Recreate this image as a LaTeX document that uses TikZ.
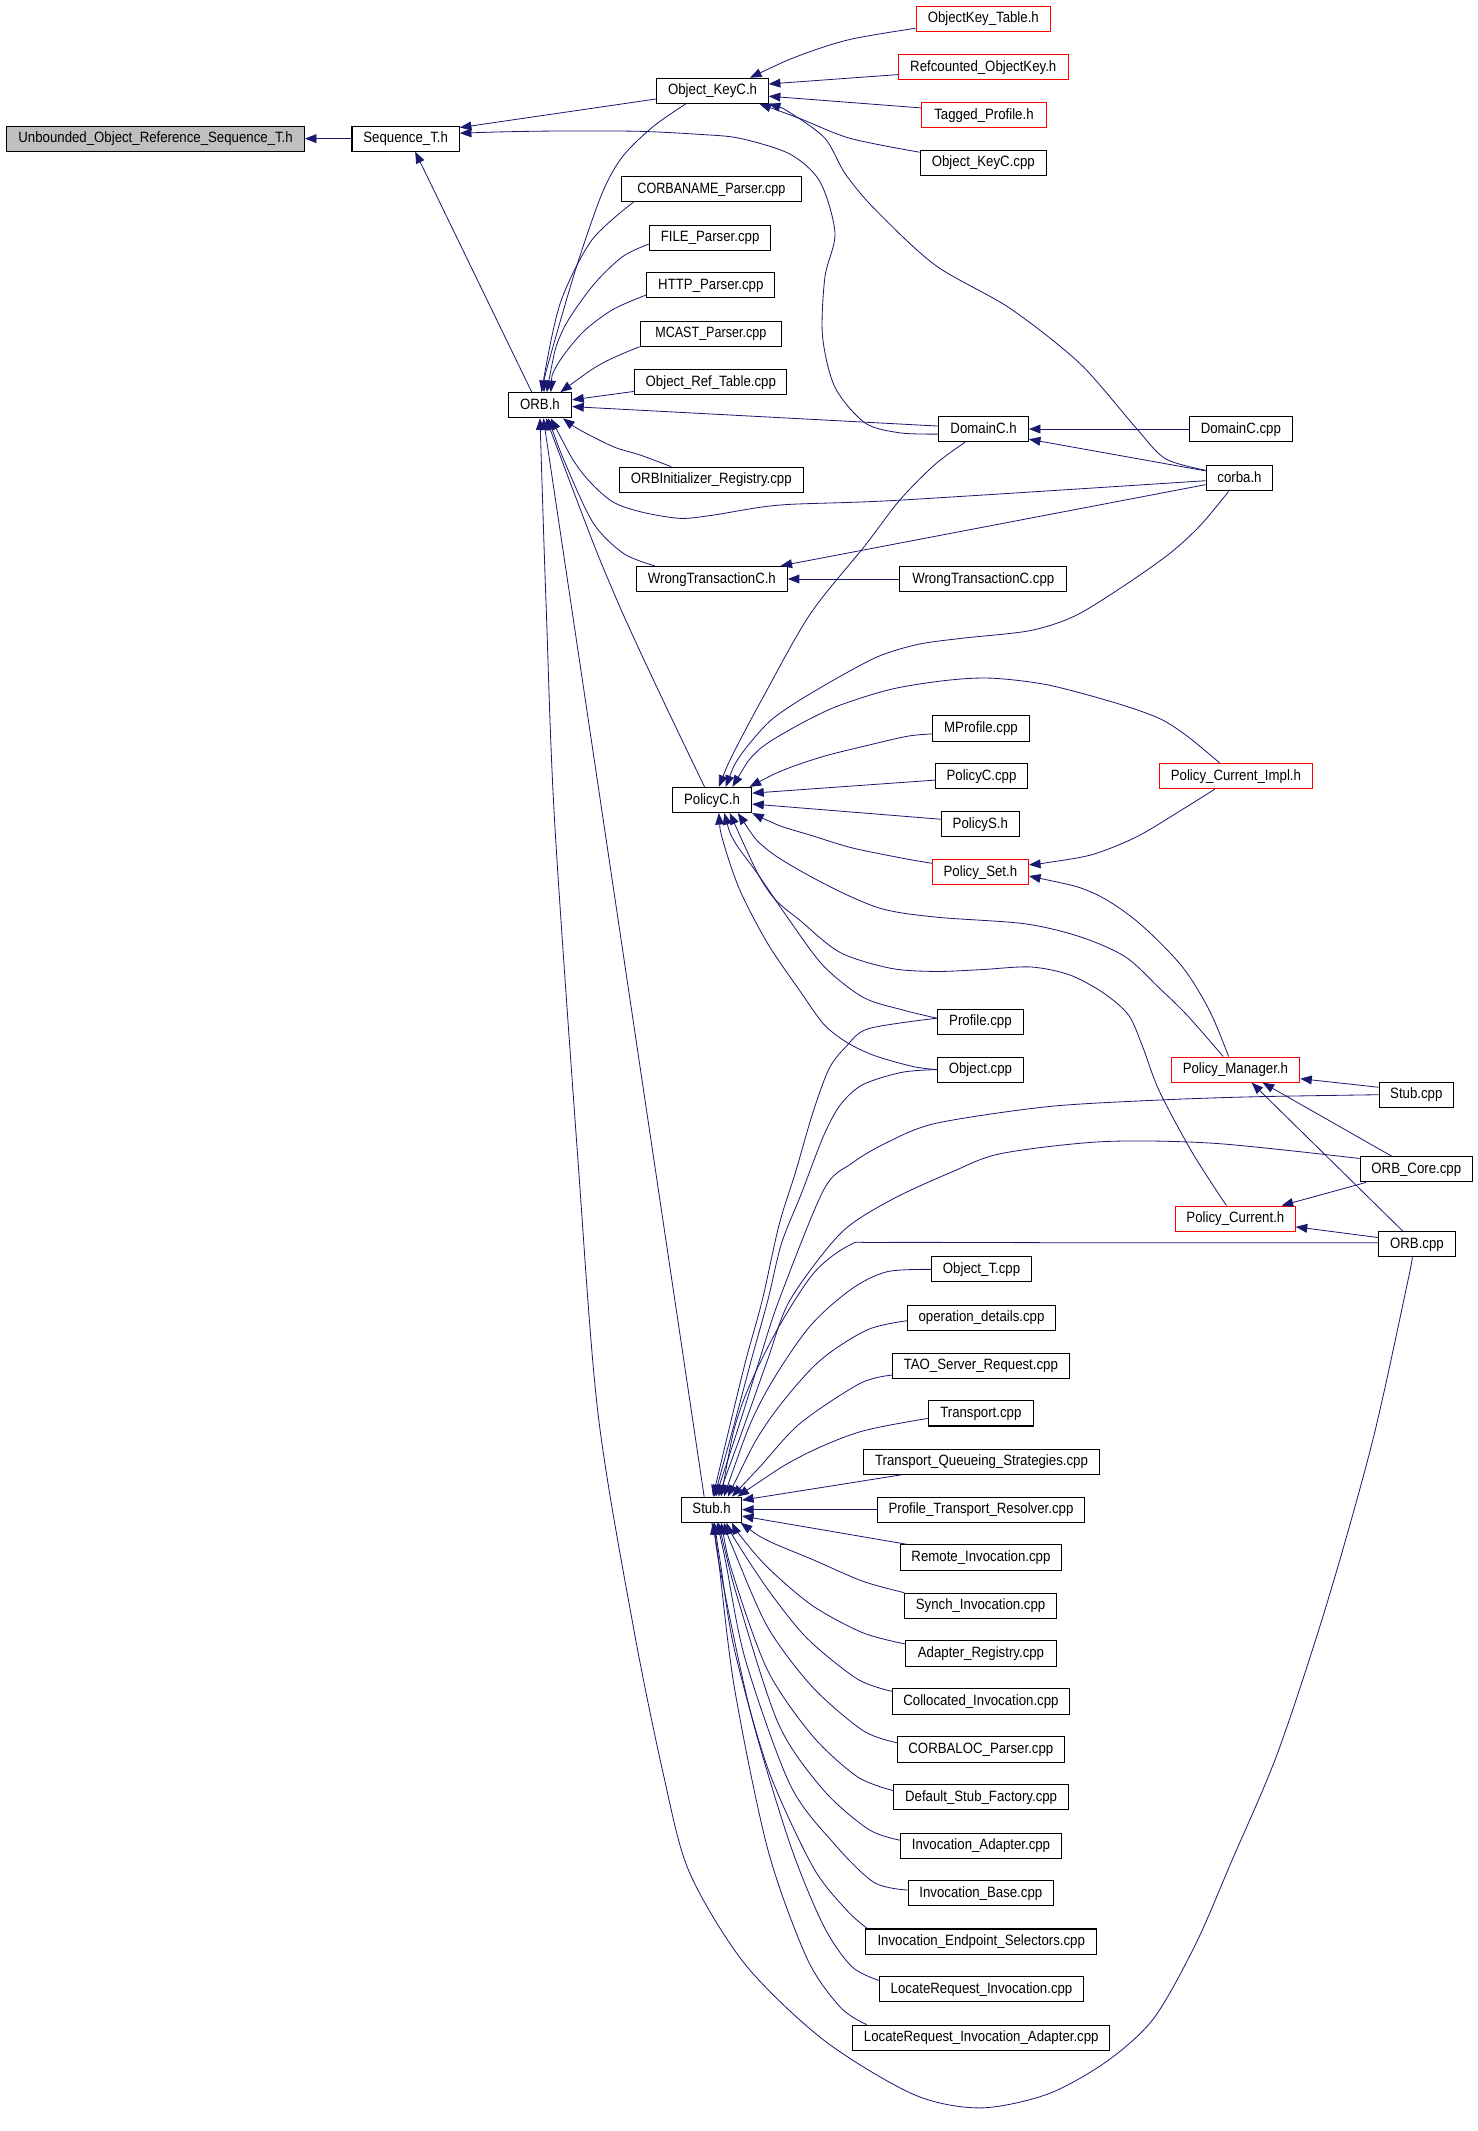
\documentclass[tikz,border=0pt]{standalone}
\usepackage{fontspec}
\setmainfont[FakeStretch=0.885]{Liberation Sans}
\newfontfamily\narrowsans[FakeStretch=0.84]{Liberation Sans}
\usetikzlibrary{arrows.meta}
\definecolor{navyline}{HTML}{191970}
\definecolor{rootgray}{HTML}{BFBFBF}
\definecolor{redline}{HTML}{FF0000}
\newcommand\dgfont{\fontsize{11}{13}\selectfont}
\newcommand\dgnarrow{\narrowsans\fontsize{11}{13}\selectfont}
\tikzset{
  filebox/.style={draw=black, line width=0.75pt, fill=white, inner xsep=4pt, inner ysep=0pt,
    minimum height=18.5pt, text height=8.6pt, text depth=2.5pt, font=\dgfont, anchor=center},
  redfile/.style={filebox, draw=redline},
  rootfile/.style={filebox, fill=rootgray},
  narrowtext/.style={font=\dgnarrow},
  dep/.style={draw=navyline, line width=0.6pt, {Triangle[length=8.5pt,width=6.5pt]}-},
}
\begin{document}
\begin{tikzpicture}[x=1pt,y=-1pt]
\useasboundingbox (0,0) rectangle (1087,1568);
% ---------------- nodes ----------------
\node[rootfile, minimum width=219pt] (U) at (114.5,102) {Unbounded\_Object\_Reference\_Sequence\_T.h};
\node[filebox, minimum width=79pt] (Seq) at (298.5,102) {Sequence\_T.h};
\node[filebox, minimum width=82pt] (OKC) at (524.3,66.8) {Object\_KeyC.h};
\node[redfile, minimum width=99pt] (OKT) at (723.5,13.8) {ObjectKey\_Table.h};
\node[redfile, minimum width=125pt] (RCOK) at (723.5,49.2) {Refcounted\_ObjectKey.h};
\node[redfile, minimum width=92pt] (TP) at (724,84.7) {Tagged\_Profile.h};
\node[filebox, minimum width=93pt] (OKCcpp) at (723.5,119.8) {Object\_KeyC.cpp};
\node[filebox, narrowtext, minimum width=133pt] (CN) at (523.5,139.2) {CORBANAME\_Parser.cpp};
\node[filebox, minimum width=89pt] (FP) at (522.5,175) {FILE\_Parser.cpp};
\node[filebox, minimum width=94pt] (HP) at (523,210) {HTTP\_Parser.cpp};
\node[filebox, narrowtext, minimum width=104pt] (MP) at (523,245.5) {MCAST\_Parser.cpp};
\node[filebox, minimum width=112pt] (ORT) at (523,281) {Object\_Ref\_Table.cpp};
\node[filebox, minimum width=46.7pt] (ORB) at (397.3,298.2) {ORB.h};
\node[filebox, minimum width=66pt] (DC) at (723.7,315.7) {DomainC.h};
\node[filebox, minimum width=76pt] (DCcpp) at (913,315.7) {DomainC.cpp};
\node[filebox, minimum width=135.4pt] (ORBI) at (523.4,353) {ORBInitializer\_Registry.cpp};
\node[filebox, minimum width=49pt] (corba) at (912,352) {corba.h};
\node[filebox, minimum width=111pt] (WTC) at (523.8,426) {WrongTransactionC.h};
\node[filebox, minimum width=123pt] (WTCcpp) at (723.5,426) {WrongTransactionC.cpp};
\node[filebox, minimum width=71.5pt] (MPr) at (721.8,536) {MProfile.cpp};
\node[filebox, minimum width=58.4pt] (PC) at (523.9,588.6) {PolicyC.h};
\node[filebox, minimum width=67.6pt] (PCcpp) at (722.2,571) {PolicyC.cpp};
\node[redfile, minimum width=112.8pt] (PCI) at (909.4,571) {Policy\_Current\_Impl.h};
\node[filebox, minimum width=57.5pt] (PS) at (721.3,606.3) {PolicyS.h};
\node[redfile, minimum width=70.7pt] (PSet) at (721.4,641.6) {Policy\_Set.h};
\node[filebox, minimum width=63.3pt] (Prof) at (721.4,751.7) {Profile.cpp};
\node[filebox, minimum width=63.3pt] (Obj) at (721.4,787) {Object.cpp};
\node[redfile, minimum width=94.7pt] (PM) at (909,787) {Policy\_Manager.h};
\node[filebox, minimum width=54.8pt] (Stubcpp) at (1042.1,805.5) {Stub.cpp};
\node[filebox, minimum width=82.8pt] (ORBCore) at (1042.1,860.4) {ORB\_Core.cpp};
\node[redfile, minimum width=88pt] (PCur) at (909,896.7) {Policy\_Current.h};
\node[filebox, minimum width=56pt] (ORBcpp) at (1042.6,915.4) {ORB.cpp};
\node[filebox, minimum width=73.2pt] (ObjT) at (722.2,934) {Object\_T.cpp};
\node[filebox, minimum width=108.7pt] (OD) at (722.2,969.5) {operation\_details.cpp};
\node[filebox, minimum width=130pt] (TSR) at (721.7,1004.8) {TAO\_Server\_Request.cpp};
\node[filebox, minimum width=77.4pt] (Tr) at (721.7,1040) {Transport.cpp};
\node[filebox, minimum width=173.7pt] (TQS) at (722.2,1075.5) {Transport\_Queueing\_Strategies.cpp};
\node[filebox, minimum width=44pt] (Stub) at (523.6,1110.8) {Stub.h};
\node[filebox, minimum width=152.3pt] (PTR) at (721.8,1110.8) {Profile\_Transport\_Resolver.cpp};
\node[filebox, minimum width=118.5pt] (RI) at (721.8,1146) {Remote\_Invocation.cpp};
\node[filebox, minimum width=111.5pt] (SI) at (721.5,1181.5) {Synch\_Invocation.cpp};
\node[filebox, minimum width=111pt] (AR) at (721.8,1216.6) {Adapter\_Registry.cpp};
\node[filebox, minimum width=130pt] (CI) at (721.8,1252) {Collocated\_Invocation.cpp};
\node[filebox, minimum width=122.6pt] (CP) at (721.7,1287.3) {CORBALOC\_Parser.cpp};
\node[filebox, minimum width=128.8pt] (DSF) at (721.9,1322.5) {Default\_Stub\_Factory.cpp};
\node[filebox, minimum width=118.5pt] (IA) at (721.8,1358) {Invocation\_Adapter.cpp};
\node[filebox, minimum width=107pt] (IB) at (721.7,1393) {Invocation\_Base.cpp};
\node[filebox, minimum width=170pt] (IES) at (722,1428.6) {Invocation\_Endpoint\_Selectors.cpp};
\node[filebox, minimum width=149.7pt] (LRI) at (722.2,1463.8) {LocateRequest\_Invocation.cpp};
\node[filebox, minimum width=189pt] (LRIA) at (722,1499.3) {LocateRequest\_Invocation\_Adapter.cpp};
% ---------------- edges ----------------
\draw[dep] (U.east) -- (Seq.west);
\draw[dep] ([yshift=-1.5pt]Seq.north east) -- ([yshift=-6pt]OKC.west);
\draw[dep] plot[smooth] coordinates {([yshift=4pt]Seq.east) (375.4,96.9) (413,96.4) (469.3,96.6) (515,98.9) (544.5,101.8) (581.3,113.4) (603.4,133.8) (614.4,171.6) (607,203.6) (605.2,247.2) (614.4,285) (636.5,311.2) (662.3,318.5) ([yshift=-3.7pt]DC.west)};
\draw[dep] ([xshift=7pt]Seq.south) -- ([xshift=-6pt]ORB.north);
% Object_KeyC.h
\draw[dep] plot[smooth] coordinates {([xshift=27.5pt]OKC.north) (588.7,40.7) (625.5,29) ([yshift=-7pt]OKT.west)};
\draw[dep] ([yshift=5pt]OKC.east) -- ([yshift=-5.7pt]RCOK.west);
\draw[dep] ([yshift=-4pt]OKC.east) -- ([yshift=5.3pt]TP.west);
\draw[dep] plot[smooth] coordinates {([xshift=34.5pt]OKC.south) (588.7,87.3) (625.5,101.8) ([yshift=7.8pt]OKCcpp.west)};
\draw[dep] plot[smooth] coordinates {(OKC.south east) (581.3,82.9) (607,101.8) (622,128) (643.9,154.1) (688,195) (743.2,226.9) (794.7,267.6) (835.2,314.1) (857.3,337.4) ([yshift=6pt]corba.west)};
% ORB.h
\draw[dep] plot[smooth] coordinates {([xshift=1pt]ORB.north) (405.5,260) (424.2,196.2) (443,142.3) (458,115.3) (480.5,93.2) ([xshift=-19.7pt]OKC.south)};
\draw[dep] plot[smooth] coordinates {([xshift=3pt]ORB.north) (401.7,269.8) (413,220.8) (435.5,176.6) ([xshift=-57.5pt]CN.south)};
\draw[dep] plot[smooth] coordinates {([xshift=5pt]ORB.north) (413,245.3) (435.5,211) (458,188.9) ([yshift=-4.5pt]FP.west)};
\draw[dep] plot[smooth] coordinates {([xshift=8pt]ORB.north) (409.2,269.8) (428,245.3) (450.5,228) ([yshift=-7pt]HP.west)};
\draw[dep] plot[smooth] coordinates {([xshift=15pt]ORB.north) (443,267.4) (MP.south west)};
\draw[dep] ([yshift=4pt]ORB.east) -- ([yshift=-7pt]ORT.west);
\draw[dep] ([yshift=-1pt]ORB.east) -- ([yshift=2.2pt]DC.west);
\draw[dep] plot[smooth] coordinates {([xshift=17pt]ORB.south) (426.8,316.4) (451.3,328.7) (471,334.8) ([xshift=-29.5pt]ORBI.north)};
\draw[dep] plot[smooth] coordinates {([xshift=8pt]ORB.south) (426.8,345.8) (448.9,368) (471,376.5) (500.4,381.4) (524.9,379) (574,371.6) (662.3,368) ([yshift=-1.7pt]corba.west)};
\draw[dep] plot[smooth] coordinates {([xshift=6pt]ORB.south) (417,343.4) (436.6,385) (458.7,407.2) ([xshift=-42pt]WTC.north)};
\draw[dep] plot[smooth] coordinates {([xshift=4.5pt]ORB.south) (455,444) ([xshift=-5.5pt]PC.north)};
\draw[dep] ([xshift=2.5pt]ORB.south) -- ([xshift=-5.5pt]Stub.north);
\draw[dep] plot[smooth] coordinates {(ORB.south) (402,450) (408,603) (425,850) (440,1040) (466,1197) (488,1305) (507,1377) (548,1445) (606,1501) (672,1541) (721,1551) (770.7,1540.9) (814,1517) (849,1485) (880,1430) (906,1370) (940,1290) (976,1181) (1010,1060) (1036,942) ([xshift=-3.5pt]ORBcpp.south)};
% DomainC.h, corba.h, WrongTransactionC.h
\draw[dep] (DC.east) -- (DCcpp.west);
\draw[dep] ([yshift=-7.5pt]DC.east) -- ([yshift=5.5pt]corba.west);
\draw[dep] (WTC.east) -- (WTCcpp.west);
\draw[dep] ([xshift=50.5pt]WTC.north) -- ([yshift=-4.6pt]corba.west);
% PolicyC.h
\draw[dep] plot[smooth] coordinates {([xshift=5pt]PC.north) (539.6,554.3) (561.7,512.6) (596,452) (636.5,401.4) (662,368) (688,341.7) ([xshift=-13.5pt]DC.south)};
\draw[dep] plot[smooth] coordinates {([xshift=10pt]PC.north) (544.4,556.5) (565,532) (585.5,517) (618.5,497.5) (647.2,482.6) (676,474) (709,469.5) (758,464) (791.3,453) (827.8,430.5) (861,407) (883,386.8) ([xshift=-8pt]corba.south)};
\draw[dep] plot[smooth] coordinates {([xshift=15pt]PC.north) (556.7,553.2) (581.4,536.8) (614.4,520.3) (655.5,507.2) (696.7,500.6) (729.6,499) (770.7,503.9) (820.1,517) (853,528.6) (873.6,541.7) ([xshift=-12pt]PCI.north)};
\draw[dep] plot[smooth] coordinates {([xshift=-2pt]PC.north east) (577.3,566.3) (606.1,556.5) (639,548.3) (667.8,541.7) ([yshift=-4pt]MPr.west)};
\draw[dep] ([yshift=5pt]PC.east) -- ([yshift=-3pt]PCcpp.west);
\draw[dep] ([yshift=-3pt]PC.east) -- ([yshift=3.5pt]PS.west);
\draw[dep] plot[smooth] coordinates {(PC.south east) (573.2,607.4) (597.9,615) (626.7,623.8) (663.7,631.4) ([yshift=6.4pt]PSet.west)};
\draw[dep] plot[smooth] coordinates {([xshift=19pt]PC.south) (565,625.5) (606,650) (647.2,668.2) (688.5,674.8) (754,679.7) (795.4,689.5) (828.3,704.2) (853,727) (873.5,747) ([xshift=-9pt]PM.north)};
\draw[dep] plot[smooth] coordinates {([xshift=13pt]PC.south) (565,655) (589.6,678) (618.5,701) (655.5,712.5) (688.4,714.8) (721.3,713.5) (758.4,711.5) (787.2,717.4) (811.9,730.6) (830.4,746.9) (840.7,770) (853,802.8) (877.7,848.8) ([xshift=-6.6pt]PCur.north)};
\draw[dep] plot[smooth] coordinates {([xshift=9pt]PC.south) (540.2,618.8) (556.7,641.9) (581.5,678) (606,710.8) (635,733.8) (663.7,743) ([yshift=2.5pt]Prof.west)};
\draw[dep] plot[smooth] coordinates {([xshift=5pt]PC.south) (532,618.8) (544.4,655) (565,694.5) (589.6,730.6) (606.1,753.6) (622.6,766.7) (643.1,776.6) (672,784.8) (Obj.west)};
% Policy_Set.h, Policy_Manager.h, Policy_Current.h
\draw[dep] plot[smooth] coordinates {([yshift=5.3pt]PSet.east) (770.7,634.7) (803.7,628.8) (836.6,615.6) (869.5,595.9) ([xshift=-15.5pt]PCI.south)};
\draw[dep] plot[smooth] coordinates {([yshift=-3pt]PSet.east) (803.6,656.7) (836.7,678) (869.5,710.8) (890,743.7) ([xshift=-5pt]PM.north)};
\draw[dep] ([yshift=-6.7pt]PM.east) -- ([yshift=5.5pt]Stubcpp.west);
\draw[dep] ([xshift=20pt]PM.south) -- ([xshift=-18pt]ORBCore.north);
\draw[dep] ([xshift=12pt]PM.south) -- ([xshift=-10.5pt]ORBcpp.north);
\draw[dep] ([xshift=34pt]PCur.north) -- ([xshift=-37pt]ORBCore.south);
\draw[dep] ([yshift=-6pt]PCur.east) -- ([yshift=4.8pt]ORBcpp.west);
% Stub.h upper
\draw[dep] plot[smooth] coordinates {([xshift=1pt]Stub.north) (538,1045) (549,1000) (560.9,956.6) (573.2,901.4) (585.5,862) (597.9,819.3) (610,786.4) (622.6,770) (639,756.9) ([yshift=2.5pt]Prof.west)};
\draw[dep] plot[smooth] coordinates {([xshift=2pt]Stub.north) (541,1045) (553,1000) (565,956.6) (575,915) (589.6,878.4) (606,835.7) (618.5,812.7) (635,798) (663.7,789) (Obj.west)};
\draw[dep] plot[smooth] coordinates {([xshift=3pt]Stub.north) (545,1045) (559,1000) (573.2,956.6) (606,875.6) (626.7,856) (651.4,841.3) (688.4,826.6) (770.7,814.3) (853,809.4) (923,807) (Stubcpp.west)};
\draw[dep] plot[smooth] coordinates {([xshift=5pt]Stub.north) (549,1045) (565,1000) (581.3,956.6) (618.5,907.5) (655.5,883) (700.7,862.2) (737,848.7) (812,840) (894.2,841.3) ([yshift=8pt]ORBCore.west)};
\draw[dep] plot[smooth] coordinates {([xshift=7pt]Stub.north) (544.5,1037.5) (569,983.6) (598.5,937) (625.5,916) (647.5,914.2) (800,914.4) ([yshift=1pt]ORBcpp.west)};
\draw[dep] plot[smooth] coordinates {([xshift=9pt]Stub.north) (559.2,1032.6) (593.6,978.7) (625.5,949.2) (652.4,935.8) (ObjT.west)};
\draw[dep] plot[smooth] coordinates {([xshift=12pt]Stub.north) (564.2,1047.3) (601,1003.2) (637.7,978.7) ([yshift=-2.3pt]OD.west)};
\draw[dep] plot[smooth] coordinates {([xshift=15pt]Stub.north) (559.2,1079.2) (588.7,1047.3) (632.8,1017.9) ([yshift=-7pt]TSR.west)};
\draw[dep] plot[smooth] coordinates {([xshift=19pt]Stub.north) (588.7,1071.9) (632.8,1053.5) ([yshift=-3.7pt]Tr.west)};
\draw[dep] ([yshift=7pt]Stub.east) -- ([xshift=-58.7pt]TQS.south);
\draw[dep] (Stub.east) -- (PTR.west);
\draw[dep] ([yshift=-4.7pt]Stub.east) -- ([xshift=-54pt]RI.north);
% Stub.h lower
\draw[dep] plot[smooth] coordinates {([xshift=-1pt]Stub.south east) (565,1133.6) (597.9,1147.5) (634.9,1163.5) (SI.north west)};
\draw[dep] plot[smooth] coordinates {([xshift=15pt]Stub.south) (544.4,1129.6) (565,1153.5) (597.9,1181.5) (634.9,1201.4) ([yshift=7pt]AR.west)};
\draw[dep] plot[smooth] coordinates {([xshift=11pt]Stub.south) (540.3,1132) (565,1169.5) (593.8,1205.4) (630.8,1235.4) ([yshift=7.5pt]CI.west)};
\draw[dep] plot[smooth] coordinates {([xshift=9pt]Stub.south) (540.3,1141.5) (565,1197.5) (597.9,1241.4) (634.9,1273.3) ([yshift=5pt]CP.west)};
\draw[dep] plot[smooth] coordinates {([xshift=7pt]Stub.south) (540.3,1161.5) (565,1229.4) (597.9,1277.3) (630.8,1307.3) ([yshift=5pt]DSF.west)};
\draw[dep] plot[smooth] coordinates {([xshift=5pt]Stub.south) (544.4,1181.5) (573.2,1269.3) (606,1317.2) (639,1346) ([yshift=4pt]IA.west)};
\draw[dep] plot[smooth] coordinates {([xshift=4pt]Stub.south) (534,1149.5) (548.5,1221.4) (581.4,1313.3) (614.3,1357.2) (643.1,1385.1) ([yshift=2.3pt]IB.west)};
\draw[dep] plot[smooth] coordinates {([xshift=2pt]Stub.south) (530,1149.5) (540.3,1213.4) (565,1301.3) (597.9,1373.2) (622.6,1405.1) ([xshift=1.5pt]IES.north west)};
\draw[dep] plot[smooth] coordinates {([xshift=1pt]Stub.south) (532,1165.5) (552.6,1261.3) (581.4,1357.2) (606,1417) (626.7,1447) ([yshift=6.5pt]LRI.west)};
\draw[dep] plot[smooth] coordinates {(Stub.south) (527.9,1141.5) (540.3,1241.4) (565,1361) (593.8,1441) (618.4,1477) ([xshift=10.5pt]LRIA.north west)};
\end{tikzpicture}
\end{document}
